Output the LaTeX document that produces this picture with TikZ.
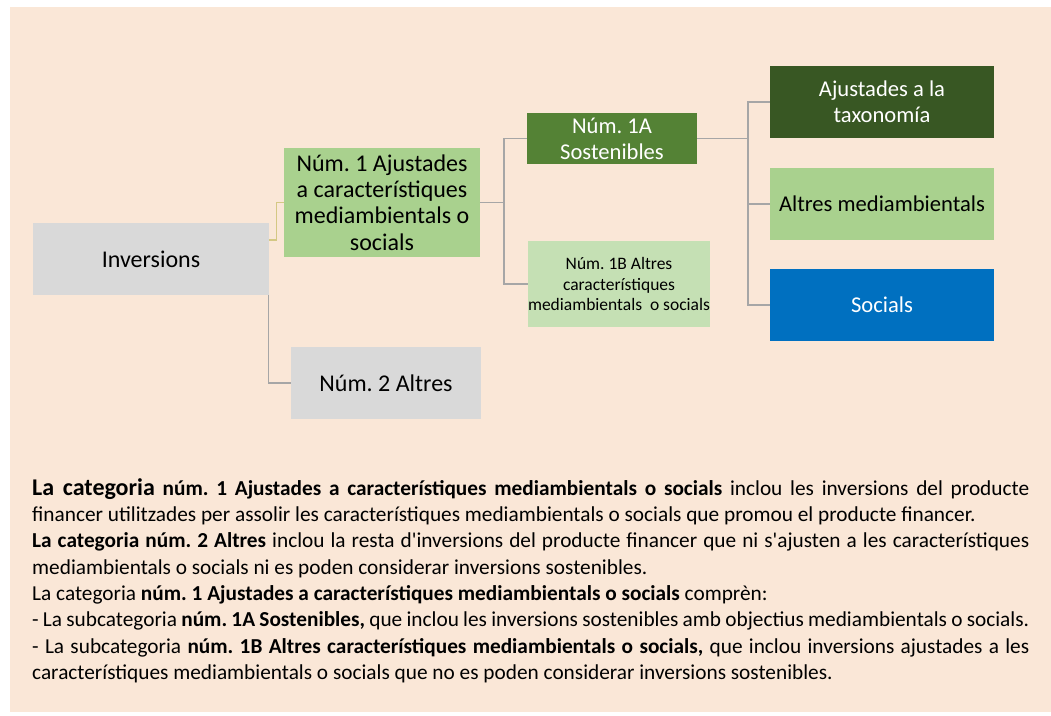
\documentclass[tikz,border=0pt]{standalone}
\usepackage{fontspec}
\setmainfont{Carlito}[Ligatures=TeXOff]
\frenchspacing
\usetikzlibrary{calc}
\definecolor{bgc}{HTML}{FAE7D7}
\definecolor{grayc}{HTML}{D9D9D9}
\definecolor{lgreen}{HTML}{A9D18E}
\definecolor{mgreen}{HTML}{548235}
\definecolor{dgreen}{HTML}{385723}
\definecolor{pgreen}{HTML}{C5E0B4}
\definecolor{bluec}{HTML}{0070C0}
\definecolor{lineg}{HTML}{A6A6A6}
\definecolor{liney}{HTML}{D4C884}
\tikzset{
  box/.style={rectangle, inner sep=0pt, align=center, text=black},
  bigtxt/.style={font=\fontsize{24}{26.3}\selectfont},
  midtxt/.style={font=\fontsize{22.6}{26}\selectfont},
  smalltxt/.style={font=\fontsize{17.5}{20.5}\selectfont},
  conn/.style={draw=lineg, line width=1.4pt},
  conny/.style={draw=liney, line width=1.4pt},
}
\begin{document}
\begin{tikzpicture}[x=1pt, y=-1pt]
\useasboundingbox (0,0) rectangle (1051,715);
\fill[bgc] (10,7) rectangle (1051,712);

% level 0
\node[box, bigtxt, fill=grayc, minimum width=236pt, minimum height=72pt] (inv) at (151,259) {Inversions};
% level 1
\node[box, bigtxt, fill=lgreen, minimum width=196pt, minimum height=109pt] (n1) at (382,202.5)
  {Núm. 1 Ajustades\\a característiques\\mediambientals o\\socials};
\node[box, bigtxt, fill=grayc, minimum width=190pt, minimum height=72pt] (n2) at (386,383) {Núm. 2 Altres};
% level 2
\node[box, midtxt, fill=mgreen, text=white, minimum width=170pt, minimum height=51pt] (n1a) at (612,138.5)
  {Núm. 1A\\Sostenibles};
\node[box, smalltxt, fill=pgreen, minimum width=182pt, minimum height=86pt] (n1b) at (619,284)
  {Núm. 1B Altres\\característiques\\mediambientals\ \ o socials};
% level 3
\node[box, midtxt, fill=dgreen, text=white, minimum width=224pt, minimum height=72pt] (aj) at (882,102)
  {Ajustades a la\\taxonomía};
\node[box, midtxt, fill=lgreen, minimum width=224pt, minimum height=72pt] (am) at (882,204)
  {Altres mediambientals};
\node[box, midtxt, fill=bluec, text=white, minimum width=224pt, minimum height=72pt] (so) at (882,305)
  {Socials};

% connectors
\draw[conny] ($(inv.north east)+(0,17)$) -- ++(7,0) |- (n1.west);
\draw[conn] ($(inv.south east)+(-1,0)$) |- (n2.west);
\coordinate (j1) at (504,202.5);
\draw[conn] (n1.east) -- (j1);
\draw[conn] (j1) |- (n1a.west);
\draw[conn] (j1) |- (n1b.west);
\coordinate (j2) at (748,138.5);
\draw[conn] (n1a.east) -- (j2);
\draw[conn] (j2) |- (aj.west);
\draw[conn] (j2) |- (am.west);
\draw[conn] (j2) |- (so.west);

% explanatory text
\node[anchor=north west, inner sep=0pt, text width=997pt, align=justify] (txt) at (32,475)
{\fontsize{21.3}{26.3}\selectfont\parindent=0pt\parskip=0pt\tolerance=10000\rule{0pt}{20pt}%
{\fontsize{24}{26.3}\selectfont\bfseries La categoria} \textbf{núm. 1 Ajustades a característiques mediambientals o socials} inclou les inversions del producte\linebreak
financer utilitzades per assolir les característiques mediambientals o socials que promou el producte financer.\par
\textbf{La categoria núm. 2 Altres} inclou la resta d'inversions del producte financer que ni s'ajusten a les característiques\linebreak
mediambientals o socials ni es poden considerar inversions sostenibles.\par
La categoria \textbf{núm. 1 Ajustades a característiques mediambientals o socials} comprèn:\par
- La subcategoria \textbf{núm. 1A Sostenibles,} que inclou les inversions sostenibles amb objectius mediambientals o socials.\par
- La subcategoria \textbf{núm. 1B Altres característiques mediambientals o socials,} que inclou inversions ajustades a les\linebreak
característiques mediambientals o socials que no es poden considerar inversions sostenibles.\par};
\end{tikzpicture}
\end{document}
